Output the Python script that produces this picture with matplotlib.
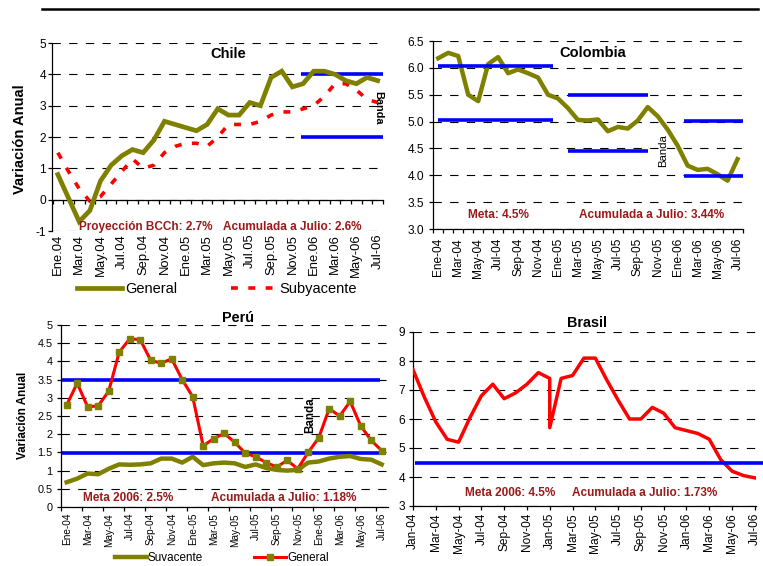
import numpy as np
import matplotlib
matplotlib.use('Agg')
import matplotlib.pyplot as plt
from matplotlib.lines import Line2D

plt.rcParams['font.family'] = ['Liberation Sans', 'DejaVu Sans']

# ---------------- data ----------------
months_es = ['Ene-04', 'Feb-04', 'Mar-04', 'Abr-04', 'May-04', 'Jun-04', 'Jul-04', 'Ago-04',
             'Sep-04', 'Oct-04', 'Nov-04', 'Dic-04', 'Ene-05', 'Feb-05', 'Mar-05', 'Abr-05',
             'May-05', 'Jun-05', 'Jul-05', 'Ago-05', 'Sep-05', 'Oct-05', 'Nov-05', 'Dic-05',
             'Ene-06', 'Feb-06', 'Mar-06', 'Abr-06', 'May-06', 'Jun-06', 'Jul-06']

chile_ticklabels = ['Ene.04', 'Mar.04', 'May.04', 'Jul.04', 'Sep.04', 'Nov.04', 'Ene.05', 'Mar.05',
                    'May.05', 'Jul.05', 'Sep.05', 'Nov.05', 'Ene.06', 'Mar.06', 'May-06', 'Jul-06']
es_ticklabels = ['Ene-04', 'Mar-04', 'May-04', 'Jul-04', 'Sep-04', 'Nov-04', 'Ene-05', 'Mar-05',
                 'May-05', 'Jul-05', 'Sep-05', 'Nov-05', 'Ene-06', 'Mar-06', 'May-06', 'Jul-06']
en_ticklabels = ['Jan-04', 'Mar-04', 'May-04', 'Jul-04', 'Sep-04', 'Nov-04', 'Jan-05', 'Mar-05',
                 'May-05', 'Jul-05', 'Sep-05', 'Nov-05', 'Jan-06', 'Mar-06', 'May-06', 'Jul-06']

chile_general = [0.8, 0.05, -0.7, -0.35, 0.6, 1.1, 1.4, 1.6, 1.5, 1.9, 2.5, 2.4, 2.3, 2.2, 2.4, 2.9,
                 2.7, 2.7, 3.1, 3.0, 3.9, 4.1, 3.6, 3.7, 4.1, 4.1, 4.0, 3.8, 3.7, 3.9, 3.8]
chile_subyacente = [1.5, 0.9, 0.35, -0.05, 0.1, 0.5, 0.9, 1.3, 1.0, 1.1, 1.5, 1.7, 1.8, 1.8, 1.7, 2.0,
                    2.4, 2.4, 2.4, 2.5, 2.7, 2.8, 2.8, 2.9, 3.0, 3.3, 3.7, 3.7, 3.5, 3.2, 3.1]
chile_band_low, chile_band_high = 2.0, 4.0
chile_band_from, chile_band_to = 22.8, 30.5

colombia_general = [6.18, 6.28, 6.22, 5.5, 5.38, 6.07, 6.2, 5.9, 5.97, 5.9, 5.82, 5.5, 5.43, 5.25,
                    5.03, 5.02, 5.04, 4.82, 4.9, 4.87, 5.02, 5.27, 5.1, 4.85, 4.55, 4.18, 4.1, 4.12,
                    4.02, 3.9, 4.3]
colombia_band_low = [5.03, 4.46, 3.98]
colombia_band_high = [6.03, 5.49, 5.01]
colombia_band_from = [0.0, 13.0, 24.65]
colombia_band_to = [11.55, 21.07, 30.6]

peru_general = [2.8, 3.4, 2.75, 2.78, 3.18, 4.25, 4.62, 4.6, 4.03, 3.95, 4.07, 3.5, 3.03, 1.68, 1.88,
                2.02, 1.78, 1.48, 1.38, 1.22, 1.1, 1.28, 1.05, 1.5, 1.9, 2.7, 2.5, 2.9, 2.23, 1.83, 1.55]
peru_suyacente = [0.68, 0.78, 0.92, 0.9, 1.05, 1.17, 1.16, 1.17, 1.2, 1.33, 1.33, 1.22, 1.38, 1.15,
                  1.2, 1.22, 1.2, 1.1, 1.17, 1.07, 1.02, 1.0, 1.02, 1.22, 1.25, 1.33, 1.38, 1.4, 1.32,
                  1.3, 1.17]
peru_band_low, peru_band_high = 1.47, 3.48
peru_band_from, peru_band_to = -0.5, 29.8

months_en = ['Jan-04', 'Feb-04', 'Mar-04', 'Apr-04', 'May-04', 'Jun-04', 'Jul-04', 'Aug-04',
             'Sep-04', 'Oct-04', 'Nov-04', 'Dec-04', 'Jan-05', 'Feb-05', 'Mar-05', 'Apr-05',
             'May-05', 'Jun-05', 'Jul-05', 'Aug-05', 'Sep-05', 'Oct-05', 'Nov-05', 'Dec-05',
             'Jan-06', 'Feb-06', 'Mar-06', 'Apr-06', 'May-06', 'Jun-06', 'Jul-06']
brasil_months = months_en[:13] + ['Jan-05'] + months_en[13:]
brasil_general = [7.7, 6.75, 5.9, 5.3, 5.2, 6.05, 6.8, 7.2, 6.7, 6.9, 7.2, 7.6, 7.4, 5.7, 7.4, 7.5,
                  8.1, 8.1, 7.35, 6.65, 6.0, 6.0, 6.4, 6.2, 5.7, 5.6, 5.5, 5.3, 4.6, 4.2, 4.05, 3.97]
brasil_meta = 4.48
brasil_band_from, brasil_band_to = 0.2, 30.8

# ---------------- style ----------------
W, H = 763, 566
OLIVE = '#808000'
RED = '#FF0000'
BLUE = '#0000FF'
DRED = '#991A1A'
GRID_LS = (0, (7.5, 7.5))

fig = plt.figure(figsize=(W / 100, H / 100), dpi=100)


def fx(x):
    return x / W


def fy(y):
    return 1 - y / H


def make_ax(l, t, r, b):
    return fig.add_axes([fx(l), fy(b), fx(r) - fx(l), fy(t) - fy(b)])


def base(ax, ylim, yticks, ylabels, xlim, ysize, ypad):
    ax.set_xlim(*xlim)
    ax.set_ylim(*ylim)
    ax.set_yticks(yticks)
    ax.set_yticklabels(ylabels)
    for s in ['top', 'right']:
        ax.spines[s].set_visible(False)
    ax.spines['left'].set_linewidth(0.9)
    ax.spines['bottom'].set_linewidth(0.9)
    ax.tick_params(axis='y', direction='out', length=3, width=0.9, pad=ypad, labelsize=ysize)
    ax.set_axisbelow(True)
    ax.yaxis.grid(True, linestyle=GRID_LS, color='black', linewidth=0.8)
    ax.patch.set_visible(False)


x31 = np.arange(len(months_es))

# ---------------- Chile ----------------
ax = make_ax(52, 43, 383, 231)
base(ax, (-1, 5), range(-1, 6), [str(v) for v in range(-1, 6)], (-0.55, 30.5), 8.6, 1.2)
ax.spines['bottom'].set_visible(False)
ax.set_xticks(x31[::2])
ax.set_xticklabels(chile_ticklabels, rotation=90, fontsize=9.4)
ax.tick_params(axis='x', length=0, pad=2)
sec = ax.secondary_xaxis(1 / 6)
sec.set_xticks(np.arange(-0.5, 31, 1))
sec.tick_params(axis='x', direction='out', length=3, width=0.9, labelbottom=False)
sec.spines['bottom'].set_linewidth(0.9)
ax.hlines([chile_band_high, chile_band_low], chile_band_from, chile_band_to, color=BLUE, lw=2.6,
          clip_on=False, zorder=2)
ax.plot(x31, chile_subyacente, color=RED, lw=2.6, linestyle=(0, (1.9, 2.9)), zorder=3)
ax.plot(x31, chile_general, color=OLIVE, lw=3.4, zorder=4, solid_joinstyle='miter')
fig.text(fx(228), fy(54), 'Chile', ha='center', va='center', fontsize=10.5, fontweight='bold')
fig.text(fx(20), fy(139), 'Variación Anual', ha='center', va='center', rotation=90,
         fontsize=10.6, fontweight='bold')
fig.text(fx(378), fy(108), 'Banda', ha='center', va='center', rotation=-90, fontsize=7.8,
         fontweight='bold')
fig.text(fx(146), fy(227), 'Proyección BCCh: 2.7%', ha='center', va='center', fontsize=8.5,
         fontweight='bold', color=DRED)
fig.text(fx(292), fy(227), 'Acumulada a Julio: 2.6%', ha='center', va='center', fontsize=8.5,
         fontweight='bold', color=DRED)
h1 = [Line2D([], [], color=OLIVE, lw=3.4),
      Line2D([], [], color=RED, lw=2.6, linestyle=(0, (1.9, 2.9)))]
fig.legend(h1, ['General', 'Subyacente'], loc='center left', bbox_to_anchor=(fx(77), fy(289)),
           ncol=2, frameon=False, fontsize=10.5, handlelength=3.1, handletextpad=0.2,
           columnspacing=3.7, borderpad=0, borderaxespad=0)

# ---------------- Colombia ----------------
ax = make_ax(433, 41, 743, 229)
cticks = np.arange(3.0, 6.51, 0.5)
base(ax, (3.0, 6.5), cticks, ['%.1f' % v for v in cticks], (-0.53, 30.55), 8.6, 3.5)
ax.set_xticks(x31[::2])
ax.set_xticklabels(es_ticklabels, rotation=90, fontsize=8.6)
ax.tick_params(axis='x', length=0, pad=6.5)
ax.set_xticks(np.arange(-0.5, 31, 1), minor=True)
ax.tick_params(axis='x', which='minor', direction='out', length=3, width=0.9)
ax.plot(x31, colombia_general, color=OLIVE, lw=3.2, zorder=3)
for lo, hi, a, b in zip(colombia_band_low, colombia_band_high, colombia_band_from, colombia_band_to):
    ax.hlines([hi, lo], a, b, color=BLUE, lw=2.6, clip_on=False, zorder=4)
fig.text(fx(593), fy(53), 'Colombia', ha='center', va='center', fontsize=10.5, fontweight='bold')
fig.text(fx(663), fy(151), 'Banda', ha='center', va='center', rotation=90, fontsize=8.2)
fig.text(fx(498), fy(215), 'Meta: 4.5%', ha='center', va='center', fontsize=8.5,
         fontweight='bold', color=DRED)
fig.text(fx(652), fy(215), 'Acumulada a Julio: 3.44%', ha='center', va='center', fontsize=8.5,
         fontweight='bold', color=DRED)

# ---------------- Perú ----------------
ax = make_ax(61, 325, 388, 507)
pticks = np.arange(0, 5.01, 0.5)
base(ax, (0, 5), pticks, ['%g' % v for v in pticks], (-0.54, 30.6), 7.8, 3.0)
ax.set_xticks(x31[::2])
ax.set_xticklabels(es_ticklabels, rotation=90, fontsize=7.2)
ax.tick_params(axis='x', length=0, pad=4.3)
ax.set_xticks(np.arange(-0.5, 31, 2), minor=True)
ax.tick_params(axis='x', which='minor', direction='out', length=3, width=0.9)
ax.hlines([peru_band_high, peru_band_low], peru_band_from, peru_band_to, color=BLUE, lw=2.6,
          zorder=2)
ax.plot(x31, peru_suyacente, color=OLIVE, lw=3.2, zorder=3)
ax.plot(x31, peru_general, color=RED, lw=2.2, marker='s', markersize=4.2, markerfacecolor=OLIVE,
        markeredgecolor=OLIVE, zorder=4)
fig.text(fx(238), fy(318), 'Perú', ha='center', va='center', fontsize=10.4, fontweight='bold')
fig.text(fx(23), fy(415), 'Variación Anual', ha='center', va='center', rotation=90,
         fontsize=8.4, fontweight='bold')
fig.text(fx(310), fy(415), 'Banda', ha='center', va='center', rotation=90, fontsize=8.4,
         fontweight='bold')
fig.text(fx(128), fy(498), 'Meta 2006: 2.5%', ha='center', va='center', fontsize=8.5,
         fontweight='bold', color=DRED)
fig.text(fx(284), fy(498), 'Acumulada a Julio: 1.18%', ha='center', va='center', fontsize=8.5,
         fontweight='bold', color=DRED)
h2 = [Line2D([], [], color=OLIVE, lw=3.2),
      Line2D([], [], color=RED, lw=2.2, marker='s', markersize=4.2, markerfacecolor=OLIVE,
             markeredgecolor=OLIVE)]
fig.legend(h2, ['Suvacente', 'General'], loc='center left', bbox_to_anchor=(fx(115), fy(558)),
           ncol=2, frameon=False, fontsize=8.4, handlelength=2.7, handletextpad=0.1,
           columnspacing=4.4, borderpad=0, borderaxespad=0, numpoints=1)

# ---------------- Brasil ----------------
ax = make_ax(413, 332, 756, 506)
base(ax, (3, 9), range(3, 10), [str(v) for v in range(3, 10)], (0, 30.1), 8.6, 2.5)
bx = [months_en.index(m) for m in brasil_months]
ax.set_xticks(x31[::2])
ax.set_xticklabels(en_ticklabels, rotation=90, fontsize=8.6)
ax.tick_params(axis='x', direction='out', length=3, width=0.9, pad=2)
ax.plot(bx, brasil_general, color=RED, lw=2.5, zorder=3)
ax.hlines([brasil_meta], brasil_band_from, brasil_band_to, color=BLUE, lw=2.6, clip_on=False,
          zorder=4)
fig.text(fx(587), fy(323), 'Brasil', ha='center', va='center', fontsize=10.4, fontweight='bold')
fig.text(fx(510), fy(493), 'Meta 2006: 4.5%', ha='center', va='center', fontsize=8.5,
         fontweight='bold', color=DRED)
fig.text(fx(645), fy(493), 'Acumulada a Julio: 1.73%', ha='center', va='center', fontsize=8.5,
         fontweight='bold', color=DRED)

# top rule
fig.add_artist(Line2D([fx(42), fx(758)], [fy(9), fy(9)], color='black', lw=1.8))

fig.savefig('out.png', dpi=100)
